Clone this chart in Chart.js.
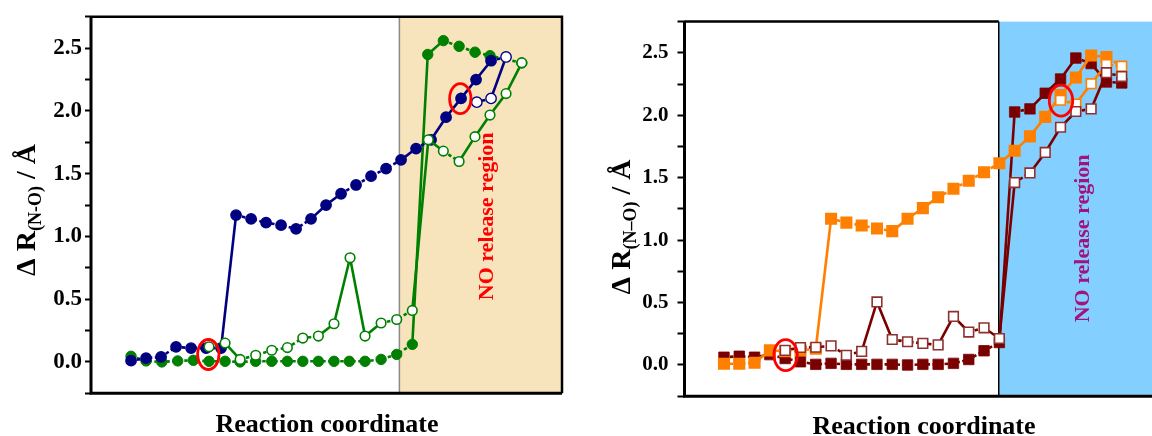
<!DOCTYPE html>
<html>
<head>
<meta charset="utf-8">
<script src="https://cdn.jsdelivr.net/npm/chart.js@4.4.0/dist/chart.umd.min.js"></script>
<style>
  html, body { margin: 0; padding: 0; background: #fff; overflow: hidden; }
  #wrap { position: relative; width: 1152px; height: 436px; overflow: hidden; }
  #izq { position: absolute; left: 0; top: 0; }
  #der { position: absolute; left: 576px; top: 0; }
</style>
</head>
<body>
<div id="wrap">
  <canvas id="izq" width="576" height="436"></canvas>
  <canvas id="der" width="600" height="436"></canvas>
</div>
<script>
// ---- panel izquierdo (circulos) ----
var azulX = [0,1,2,3,4,5,6,7,8,9,10,11,12,13,14,15,16,17,18,19,20,21,22,23,24];
var azulY = [0.01,0.03,0.04,0.12,0.11,0.11,0.11,1.17,1.14,1.11,1.09,1.06,1.14,1.25,1.34,1.41,1.48,1.54,1.61,1.70,1.77,1.95,2.10,2.25,2.40];
var azulAbiertoX = [25,24,23.05];
var azulAbiertoY = [2.43,2.10,2.07];

var verdeX = [0,1,2.05,3.11,4.15,5.2,6.27,7.27,8.31,9.38,10.42,11.45,12.49,13.53,14.55,15.6,16.67,17.71,18.75,19.78,20.82,21.87,22.93,23.93,26.05];
var verdeY = [0.045,0.008,0.0,0.008,0.013,0.005,0.005,0.0,0.005,0.005,0.005,0.005,0.005,0.005,0.005,0.005,0.02,0.06,0.14,2.45,2.56,2.515,2.468,2.44,2.383];
var verdeAbiertoX = [5.2,6.27,7.27,8.31,9.38,10.42,11.45,12.49,13.53,14.6,15.6,16.67,17.71,18.75,19.82,20.82,21.87,22.93,23.93,25.0,26.05];
var verdeAbiertoY = [0.12,0.15,0.02,0.053,0.093,0.114,0.19,0.206,0.304,0.83,0.206,0.31,0.338,0.41,1.77,1.68,1.597,1.795,1.967,2.138,2.383];

var marcasIzq = [[5.15,0.059],[21.95,2.098]];

// ---- panel derecho (cuadrados) ----
var naranjaX = [0,1,2,3,4,5,6,7,8,9,10,11,12,13,14,15,16,17,18,19,20,21,22,23,24,25];
var naranjaY = [0.01,0.01,0.018,0.117,0.11,0.117,0.13,1.171,1.14,1.117,1.093,1.072,1.171,1.256,1.344,1.412,1.476,1.544,1.616,1.715,1.831,1.987,2.162,2.302,2.479,2.466];
var naranjaAbiertoX = [26,25,24,23,22];
var naranjaAbiertoY = [2.393,2.406,2.253,2.09,2.121];

var granateX = [0,1,2,3,4,5,6,7,8,9,10,11,12,13,14,15,16,17,18,19,20,21,22,23,24,25,26];
var granateY = [0.062,0.07,0.062,0.083,0.052,0.026,0.005,0.013,0.005,0.005,0.005,0.005,0.0,0.005,0.005,0.013,0.044,0.114,0.18,2.026,2.051,2.176,2.29,2.458,2.414,2.267,2.259];
var granateAbiertoX = [4,5,6,7,8,9,10,11,12,13,14,15,16,17,18,19,20,21,22,23,24,25,26];
var granateAbiertoY = [0.117,0.14,0.142,0.153,0.078,0.109,0.505,0.204,0.186,0.173,0.161,0.389,0.264,0.298,0.212,1.461,1.538,1.702,1.904,2.03,2.051,2.341,2.31];

var marcasDer = [[4.03,0.079],[22.03,2.117]];

var NAVY = '#000080', VERDE = '#008000', NARANJA = '#FF8000', GRANATE = '#7A0000';
var SERIF = '"Liberation Serif", "Times New Roman", serif';

function puntos(xs, ys) {
  var out = [];
  for (let i = 0; i < xs.length; i++) out.push({x: xs[i], y: ys[i]});
  return out;
}

// tramos cortos punteados, saltos grandes en linea continua
function guion(c) {
  return Math.abs(c.p1.y - c.p0.y) > 10.5 ? [] : [3.5, 2.5];
}

function serie(xs, ys, color, extra) {
  var ds = {
    data: puntos(xs, ys),
    borderColor: color,
    borderWidth: 2.6,
    fill: false,
    tension: 0,
    pointBorderColor: color,
    segment: { borderDash: guion }
  };
  for (var k in extra) ds[k] = extra[k];
  return ds;
}

function rellenos(n, color) { var a = []; for (let i = 0; i < n; i++) a.push(color); return a; }

function titulo_y(ctx, x, y, sub) {
  var grande = 'bold 28px ' + SERIF, chico = 'bold 18px ' + SERIF;
  var partes = [['\u0394 R', grande, 0], [sub, chico, 6], [' / \u00C5', grande, 0]];
  ctx.save();
  ctx.translate(x, y);
  ctx.rotate(-Math.PI / 2);
  var total = 0;
  partes.forEach(function (p) { ctx.font = p[1]; total += ctx.measureText(p[0]).width; });
  var cx = -total / 2;
  ctx.fillStyle = '#000';
  ctx.textBaseline = 'alphabetic';
  partes.forEach(function (p) { ctx.font = p[1]; ctx.fillText(p[0], cx, p[2]); cx += ctx.measureText(p[0]).width; });
  ctx.restore();
}

function adornos(cfg) {
  return {
    id: 'adornos',
    beforeDatasetsDraw: function (chart) {
      var ctx = chart.ctx, a = chart.chartArea, x = chart.scales.x, y = chart.scales.y;
      var xs = x.getPixelForValue(cfg.zonaDesde);
      ctx.save();
      ctx.fillStyle = cfg.zonaColor;
      ctx.fillRect(xs, a.top, a.right - xs, a.bottom - a.top);
      ctx.strokeStyle = cfg.bordeZona;
      ctx.lineWidth = 1.5;
      ctx.beginPath(); ctx.moveTo(xs, a.top); ctx.lineTo(xs, a.bottom); ctx.stroke();
      // texto de la zona
      ctx.translate(x.getPixelForValue(cfg.textoEn[0]), y.getPixelForValue(cfg.textoEn[1]));
      ctx.rotate(-Math.PI / 2);
      ctx.font = 'bold 22px ' + SERIF;
      ctx.fillStyle = cfg.textoColor;
      ctx.textAlign = 'center';
      ctx.textBaseline = 'middle';
      ctx.fillText('NO release region', 0, 0);
      ctx.restore();
    },
    afterDatasetsDraw: function (chart) {
      var ctx = chart.ctx, a = chart.chartArea, x = chart.scales.x, y = chart.scales.y;
      ctx.save();
      // elipses rojas
      ctx.strokeStyle = '#FF0000';
      ctx.lineWidth = 2.8;
      cfg.marcas.forEach(function (m) {
        ctx.beginPath();
        ctx.ellipse(x.getPixelForValue(m[0]), y.getPixelForValue(m[1]), cfg.rx, cfg.ry, 0, 0, Math.PI * 2);
        ctx.stroke();
      });
      // marco
      var xs = x.getPixelForValue(cfg.zonaDesde);
      ctx.strokeStyle = '#000';
      ctx.lineWidth = 3;
      ctx.beginPath();
      ctx.moveTo(a.left, a.top); ctx.lineTo(a.left, a.bottom); ctx.lineTo(a.right, a.bottom);
      ctx.stroke();
      ctx.lineWidth = 2.5;
      ctx.beginPath();
      ctx.moveTo(a.left, a.top); ctx.lineTo(cfg.marcoCompleto ? a.right : xs, a.top);
      if (cfg.marcoCompleto) ctx.lineTo(a.right, a.bottom);
      ctx.stroke();
      // titulos
      ctx.fillStyle = '#000';
      ctx.font = 'bold 26px ' + SERIF;
      ctx.textAlign = 'center';
      ctx.textBaseline = 'alphabetic';
      ctx.fillText('Reaction coordinate', cfg.tituloX[0], cfg.tituloX[1]);
      ctx.restore();
      titulo_y(ctx, cfg.tituloY[0], cfg.tituloY[1], cfg.sub);
    }
  };
}

function crear_panel(id, datasets, cfg) {
  var ctx = document.getElementById(id).getContext('2d');
  return new Chart(ctx, {
    type: 'line',
    data: { datasets: datasets },
    options: {
      responsive: false,
      animation: false,
      events: [],
      layout: { padding: cfg.padding },
      plugins: { legend: { display: false }, tooltip: { enabled: false } },
      scales: {
        x: { type: 'linear', display: false, min: cfg.xmin, max: cfg.xmax },
        y: {
          type: 'linear', min: -0.25, max: 2.75,
          afterFit: function (s) { s.width = cfg.anchoY; },
          border: { display: false },
          grid: { drawOnChartArea: false, drawTicks: true, tickLength: cfg.largoTick, tickWidth: 2, tickColor: '#000' },
          ticks: {
            stepSize: 0.25,
            padding: cfg.padTick,
            color: '#000',
            font: { family: SERIF, weight: 'bold', size: cfg.tamTick },
            callback: function (v) {
              var r = Math.round(v * 4);
              return (r % 2 === 0 && r >= 0 && r <= 10) ? (r / 4).toFixed(1) : '';
            }
          }
        }
      }
    },
    plugins: [adornos(cfg)]
  });
}

// panel izquierdo
var dsIzq = [
  serie(verdeAbiertoX, verdeAbiertoY, VERDE, { pointRadius: 4.8, pointBorderWidth: 1.6, pointBackgroundColor: '#fff' }),
  serie(azulX.concat(azulAbiertoX), azulY.concat(azulAbiertoY), NAVY, {
    pointRadius: 5.2, pointBorderWidth: 1.4,
    pointBackgroundColor: rellenos(azulX.length, NAVY).concat(rellenos(azulAbiertoX.length, '#fff'))
  }),
  serie(verdeX, verdeY, VERDE, { pointRadius: 5.2, pointBorderWidth: 1, pointBackgroundColor: VERDE })
];
crear_panel('izq', dsIzq, {
  padding: { top: 14.4, right: 14, bottom: 42.7, left: 0 },
  anchoY: 91, largoTick: 6, padTick: 3, tamTick: 23,
  xmin: -2.67, xmax: 28.73,
  zonaDesde: 17.89, zonaColor: '#F7E3BC', bordeZona: '#8a8a8a',
  textoEn: [23.73, 1.16], textoColor: '#FF0000',
  marcas: marcasIzq, rx: 10.7, ry: 15,
  marcoCompleto: true,
  tituloX: [327, 432], tituloY: [35, 210], sub: '(N-O)'
});

// panel derecho
var dsDer = [
  serie(granateAbiertoX, granateAbiertoY, GRANATE, {
    pointStyle: 'rect', pointRadius: 6.8, pointBorderWidth: 1.6, pointBorderColor: '#8f3030', pointBackgroundColor: '#fff'
  }),
  serie(naranjaX.concat(naranjaAbiertoX), naranjaY.concat(naranjaAbiertoY), NARANJA, {
    pointStyle: 'rect', pointRadius: rellenos(naranjaX.length, 7.4).concat(rellenos(naranjaAbiertoX.length, 6.8)),
    pointBorderWidth: 1.6,
    pointBackgroundColor: rellenos(naranjaX.length, NARANJA).concat(rellenos(naranjaAbiertoX.length, '#fff'))
  }),
  serie(granateX, granateY, GRANATE, { pointStyle: 'rect', pointRadius: 7.4, pointBorderWidth: 0.8, pointBackgroundColor: GRANATE })
];
crear_panel('der', dsDer, {
  padding: { top: 10.1, right: 16, bottom: 39.8, left: 0 },
  anchoY: 108.5, largoTick: 7, padTick: 9, tamTick: 21,
  xmin: -2.58, xmax: 28.5,
  zonaDesde: 17.96, zonaColor: '#83CFFF', bordeZona: '#000',
  textoEn: [23.46, 1.014], textoColor: '#A0157D',
  marcas: marcasDer, rx: 11.7, ry: 15.5,
  marcoCompleto: false,
  tituloX: [348, 434], tituloY: [54, 227], sub: '(N\u2013O)'
});
</script>
</body>
</html>
